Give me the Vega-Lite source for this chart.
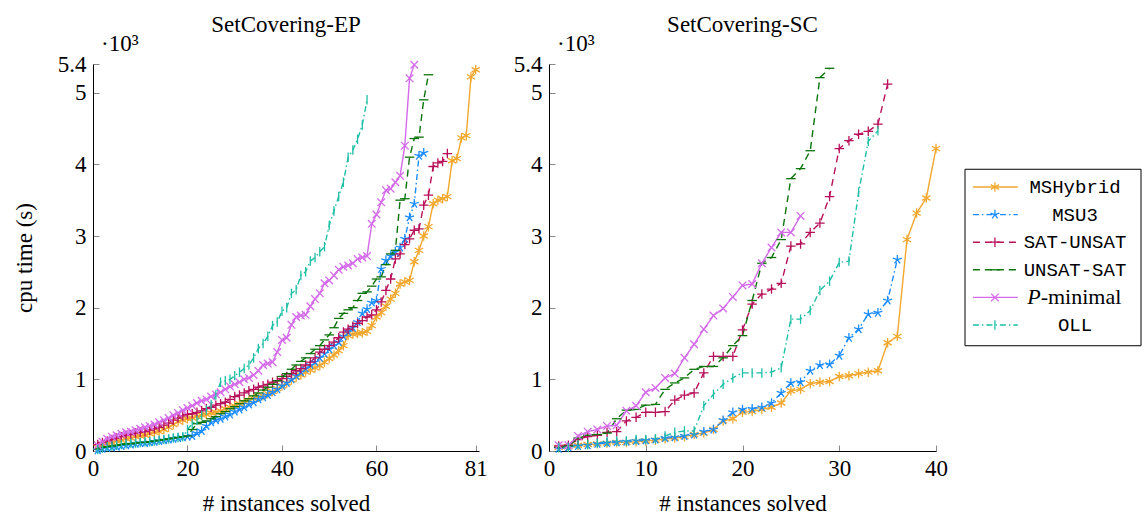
{
"$schema": "https://vega.github.io/schema/vega-lite/v6.json",
"background": "white",
"padding": {"left": 13, "top": 14, "right": 0, "bottom": 0},
"bounds": "flush",
"spacing": 70,
"config": {
  "font": "Liberation Serif",
  "view": {"stroke": null},
  "title": {"font": "Liberation Serif", "fontSize": 23, "fontWeight": "normal", "color": "#000", "anchor": "middle", "offset": -4, "baseline": "alphabetic"},
  "axis": {"labelFont": "Liberation Serif", "labelFontSize": 23, "titleFont": "Liberation Serif", "titleFontSize": 23, "titleFontWeight": "normal", "labelColor": "#000", "titleColor": "#000", "domainColor": "#000", "domainWidth": 1, "tickColor": "#888", "tickWidth": 1, "tickSize": -6, "grid": false, "labelFlush": false, "labelOverlap": false},
  "axisY": {"titlePadding": 21, "labelPadding": 13},
  "axisX": {"titlePadding": 12, "labelPadding": 12}
},
"datasets": {
  "ep": [
{"s":"MSHybrid","n":1,"t":50},{"s":"MSHybrid","n":2,"t":90},{"s":"MSHybrid","n":3,"t":110},{"s":"MSHybrid","n":4,"t":120},{"s":"MSHybrid","n":5,"t":140},{"s":"MSHybrid","n":6,"t":150},{"s":"MSHybrid","n":7,"t":170},{"s":"MSHybrid","n":8,"t":180},{"s":"MSHybrid","n":9,"t":200},{"s":"MSHybrid","n":10,"t":210},
{"s":"MSHybrid","n":11,"t":220},{"s":"MSHybrid","n":12,"t":240},{"s":"MSHybrid","n":13,"t":260},{"s":"MSHybrid","n":14,"t":270},{"s":"MSHybrid","n":15,"t":300},{"s":"MSHybrid","n":16,"t":330},{"s":"MSHybrid","n":17,"t":370},{"s":"MSHybrid","n":18,"t":410},{"s":"MSHybrid","n":19,"t":430},{"s":"MSHybrid","n":20,"t":450},
{"s":"MSHybrid","n":21,"t":460},{"s":"MSHybrid","n":22,"t":480},{"s":"MSHybrid","n":23,"t":500},{"s":"MSHybrid","n":24,"t":510},{"s":"MSHybrid","n":25,"t":530},{"s":"MSHybrid","n":26,"t":540},{"s":"MSHybrid","n":27,"t":560},{"s":"MSHybrid","n":28,"t":590},{"s":"MSHybrid","n":29,"t":610},{"s":"MSHybrid","n":30,"t":630},
{"s":"MSHybrid","n":31,"t":660},{"s":"MSHybrid","n":32,"t":680},{"s":"MSHybrid","n":33,"t":700},{"s":"MSHybrid","n":34,"t":730},{"s":"MSHybrid","n":35,"t":750},{"s":"MSHybrid","n":36,"t":770},{"s":"MSHybrid","n":37,"t":800},{"s":"MSHybrid","n":38,"t":830},{"s":"MSHybrid","n":39,"t":870},{"s":"MSHybrid","n":40,"t":910},
{"s":"MSHybrid","n":41,"t":950},{"s":"MSHybrid","n":42,"t":990},{"s":"MSHybrid","n":43,"t":1030},{"s":"MSHybrid","n":44,"t":1060},{"s":"MSHybrid","n":45,"t":1100},{"s":"MSHybrid","n":46,"t":1130},{"s":"MSHybrid","n":47,"t":1160},{"s":"MSHybrid","n":48,"t":1190},{"s":"MSHybrid","n":49,"t":1240},{"s":"MSHybrid","n":50,"t":1290},
{"s":"MSHybrid","n":51,"t":1340},{"s":"MSHybrid","n":52,"t":1400},{"s":"MSHybrid","n":53,"t":1470},{"s":"MSHybrid","n":54,"t":1610},{"s":"MSHybrid","n":55,"t":1630},{"s":"MSHybrid","n":56,"t":1640},{"s":"MSHybrid","n":57,"t":1650},{"s":"MSHybrid","n":58,"t":1670},{"s":"MSHybrid","n":59,"t":1750},{"s":"MSHybrid","n":60,"t":1870},
{"s":"MSHybrid","n":61,"t":1930},{"s":"MSHybrid","n":62,"t":2020},{"s":"MSHybrid","n":63,"t":2120},{"s":"MSHybrid","n":64,"t":2200},{"s":"MSHybrid","n":65,"t":2330},{"s":"MSHybrid","n":66,"t":2360},{"s":"MSHybrid","n":67,"t":2380},{"s":"MSHybrid","n":68,"t":2640},{"s":"MSHybrid","n":69,"t":2800},{"s":"MSHybrid","n":70,"t":3000},
{"s":"MSHybrid","n":71,"t":3130},{"s":"MSHybrid","n":72,"t":3450},{"s":"MSHybrid","n":73,"t":3500},{"s":"MSHybrid","n":74,"t":3520},{"s":"MSHybrid","n":75,"t":3550},{"s":"MSHybrid","n":76,"t":4050},{"s":"MSHybrid","n":77,"t":4080},{"s":"MSHybrid","n":78,"t":4370},{"s":"MSHybrid","n":79,"t":4400},{"s":"MSHybrid","n":80,"t":5220},{"s":"MSHybrid","n":81,"t":5320},
{"s":"MSU3","n":1,"t":10},{"s":"MSU3","n":2,"t":30},{"s":"MSU3","n":3,"t":40},{"s":"MSU3","n":4,"t":50},{"s":"MSU3","n":5,"t":60},{"s":"MSU3","n":6,"t":70},{"s":"MSU3","n":7,"t":80},{"s":"MSU3","n":8,"t":90},{"s":"MSU3","n":9,"t":100},{"s":"MSU3","n":10,"t":110},
{"s":"MSU3","n":11,"t":110},{"s":"MSU3","n":12,"t":120},{"s":"MSU3","n":13,"t":130},{"s":"MSU3","n":14,"t":140},{"s":"MSU3","n":15,"t":150},{"s":"MSU3","n":16,"t":160},{"s":"MSU3","n":17,"t":170},{"s":"MSU3","n":18,"t":180},{"s":"MSU3","n":19,"t":190},{"s":"MSU3","n":20,"t":200},
{"s":"MSU3","n":21,"t":210},{"s":"MSU3","n":22,"t":250},{"s":"MSU3","n":23,"t":280},{"s":"MSU3","n":24,"t":350},{"s":"MSU3","n":25,"t":400},{"s":"MSU3","n":26,"t":430},{"s":"MSU3","n":27,"t":450},{"s":"MSU3","n":28,"t":480},{"s":"MSU3","n":29,"t":510},{"s":"MSU3","n":30,"t":550},
{"s":"MSU3","n":31,"t":580},{"s":"MSU3","n":32,"t":610},{"s":"MSU3","n":33,"t":650},{"s":"MSU3","n":34,"t":680},{"s":"MSU3","n":35,"t":720},{"s":"MSU3","n":36,"t":750},{"s":"MSU3","n":37,"t":780},{"s":"MSU3","n":38,"t":820},{"s":"MSU3","n":39,"t":860},{"s":"MSU3","n":40,"t":910},
{"s":"MSU3","n":41,"t":950},{"s":"MSU3","n":42,"t":1000},{"s":"MSU3","n":43,"t":1050},{"s":"MSU3","n":44,"t":1100},{"s":"MSU3","n":45,"t":1150},{"s":"MSU3","n":46,"t":1200},{"s":"MSU3","n":47,"t":1240},{"s":"MSU3","n":48,"t":1300},{"s":"MSU3","n":49,"t":1360},{"s":"MSU3","n":50,"t":1420},
{"s":"MSU3","n":51,"t":1470},{"s":"MSU3","n":52,"t":1520},{"s":"MSU3","n":53,"t":1600},{"s":"MSU3","n":54,"t":1660},{"s":"MSU3","n":55,"t":1720},{"s":"MSU3","n":56,"t":1800},{"s":"MSU3","n":57,"t":1920},{"s":"MSU3","n":58,"t":1980},{"s":"MSU3","n":59,"t":2070},{"s":"MSU3","n":60,"t":2100},
{"s":"MSU3","n":61,"t":2540},{"s":"MSU3","n":62,"t":2660},{"s":"MSU3","n":63,"t":2720},{"s":"MSU3","n":64,"t":2780},{"s":"MSU3","n":65,"t":2840},{"s":"MSU3","n":66,"t":2960},{"s":"MSU3","n":67,"t":3260},{"s":"MSU3","n":68,"t":3450},{"s":"MSU3","n":69,"t":4120},{"s":"MSU3","n":70,"t":4160},
{"s":"SAT-UNSAT","n":1,"t":90},{"s":"SAT-UNSAT","n":2,"t":120},{"s":"SAT-UNSAT","n":3,"t":140},{"s":"SAT-UNSAT","n":4,"t":160},{"s":"SAT-UNSAT","n":5,"t":180},{"s":"SAT-UNSAT","n":6,"t":200},{"s":"SAT-UNSAT","n":7,"t":220},{"s":"SAT-UNSAT","n":8,"t":230},{"s":"SAT-UNSAT","n":9,"t":250},{"s":"SAT-UNSAT","n":10,"t":260},
{"s":"SAT-UNSAT","n":11,"t":270},{"s":"SAT-UNSAT","n":12,"t":290},{"s":"SAT-UNSAT","n":13,"t":310},{"s":"SAT-UNSAT","n":14,"t":330},{"s":"SAT-UNSAT","n":15,"t":360},{"s":"SAT-UNSAT","n":16,"t":390},{"s":"SAT-UNSAT","n":17,"t":430},{"s":"SAT-UNSAT","n":18,"t":460},{"s":"SAT-UNSAT","n":19,"t":490},{"s":"SAT-UNSAT","n":20,"t":510},
{"s":"SAT-UNSAT","n":21,"t":520},{"s":"SAT-UNSAT","n":22,"t":540},{"s":"SAT-UNSAT","n":23,"t":560},{"s":"SAT-UNSAT","n":24,"t":590},{"s":"SAT-UNSAT","n":25,"t":610},{"s":"SAT-UNSAT","n":26,"t":640},{"s":"SAT-UNSAT","n":27,"t":660},{"s":"SAT-UNSAT","n":28,"t":680},{"s":"SAT-UNSAT","n":29,"t":720},{"s":"SAT-UNSAT","n":30,"t":760},
{"s":"SAT-UNSAT","n":31,"t":780},{"s":"SAT-UNSAT","n":32,"t":810},{"s":"SAT-UNSAT","n":33,"t":840},{"s":"SAT-UNSAT","n":34,"t":860},{"s":"SAT-UNSAT","n":35,"t":890},{"s":"SAT-UNSAT","n":36,"t":910},{"s":"SAT-UNSAT","n":37,"t":930},{"s":"SAT-UNSAT","n":38,"t":960},{"s":"SAT-UNSAT","n":39,"t":980},{"s":"SAT-UNSAT","n":40,"t":1010},
{"s":"SAT-UNSAT","n":41,"t":1040},{"s":"SAT-UNSAT","n":42,"t":1080},{"s":"SAT-UNSAT","n":43,"t":1120},{"s":"SAT-UNSAT","n":44,"t":1150},{"s":"SAT-UNSAT","n":45,"t":1200},{"s":"SAT-UNSAT","n":46,"t":1240},{"s":"SAT-UNSAT","n":47,"t":1300},{"s":"SAT-UNSAT","n":48,"t":1380},{"s":"SAT-UNSAT","n":49,"t":1420},{"s":"SAT-UNSAT","n":50,"t":1470},
{"s":"SAT-UNSAT","n":51,"t":1520},{"s":"SAT-UNSAT","n":52,"t":1580},{"s":"SAT-UNSAT","n":53,"t":1660},{"s":"SAT-UNSAT","n":54,"t":1700},{"s":"SAT-UNSAT","n":55,"t":1740},{"s":"SAT-UNSAT","n":56,"t":1780},{"s":"SAT-UNSAT","n":57,"t":1820},{"s":"SAT-UNSAT","n":58,"t":1870},{"s":"SAT-UNSAT","n":59,"t":1900},{"s":"SAT-UNSAT","n":60,"t":1970},
{"s":"SAT-UNSAT","n":61,"t":2080},{"s":"SAT-UNSAT","n":62,"t":2240},{"s":"SAT-UNSAT","n":63,"t":2400},{"s":"SAT-UNSAT","n":64,"t":2680},{"s":"SAT-UNSAT","n":65,"t":2750},{"s":"SAT-UNSAT","n":66,"t":2880},{"s":"SAT-UNSAT","n":67,"t":2960},{"s":"SAT-UNSAT","n":68,"t":3080},{"s":"SAT-UNSAT","n":69,"t":3100},{"s":"SAT-UNSAT","n":70,"t":3430},
{"s":"SAT-UNSAT","n":71,"t":3570},{"s":"SAT-UNSAT","n":72,"t":3970},{"s":"SAT-UNSAT","n":73,"t":4020},{"s":"SAT-UNSAT","n":74,"t":4040},{"s":"SAT-UNSAT","n":75,"t":4150},
{"s":"UNSAT-SAT","n":1,"t":30},{"s":"UNSAT-SAT","n":2,"t":50},{"s":"UNSAT-SAT","n":3,"t":60},{"s":"UNSAT-SAT","n":4,"t":70},{"s":"UNSAT-SAT","n":5,"t":80},{"s":"UNSAT-SAT","n":6,"t":90},{"s":"UNSAT-SAT","n":7,"t":100},{"s":"UNSAT-SAT","n":8,"t":100},{"s":"UNSAT-SAT","n":9,"t":110},{"s":"UNSAT-SAT","n":10,"t":120},
{"s":"UNSAT-SAT","n":11,"t":120},{"s":"UNSAT-SAT","n":12,"t":130},{"s":"UNSAT-SAT","n":13,"t":140},{"s":"UNSAT-SAT","n":14,"t":150},{"s":"UNSAT-SAT","n":15,"t":160},{"s":"UNSAT-SAT","n":16,"t":170},{"s":"UNSAT-SAT","n":17,"t":180},{"s":"UNSAT-SAT","n":18,"t":190},{"s":"UNSAT-SAT","n":19,"t":200},{"s":"UNSAT-SAT","n":20,"t":210},
{"s":"UNSAT-SAT","n":21,"t":300},{"s":"UNSAT-SAT","n":22,"t":380},{"s":"UNSAT-SAT","n":23,"t":400},{"s":"UNSAT-SAT","n":24,"t":420},{"s":"UNSAT-SAT","n":25,"t":450},{"s":"UNSAT-SAT","n":26,"t":480},{"s":"UNSAT-SAT","n":27,"t":520},{"s":"UNSAT-SAT","n":28,"t":550},{"s":"UNSAT-SAT","n":29,"t":590},{"s":"UNSAT-SAT","n":30,"t":620},
{"s":"UNSAT-SAT","n":31,"t":660},{"s":"UNSAT-SAT","n":32,"t":700},{"s":"UNSAT-SAT","n":33,"t":730},{"s":"UNSAT-SAT","n":34,"t":770},{"s":"UNSAT-SAT","n":35,"t":810},{"s":"UNSAT-SAT","n":36,"t":850},{"s":"UNSAT-SAT","n":37,"t":890},{"s":"UNSAT-SAT","n":38,"t":930},{"s":"UNSAT-SAT","n":39,"t":980},{"s":"UNSAT-SAT","n":40,"t":1040},
{"s":"UNSAT-SAT","n":41,"t":1080},{"s":"UNSAT-SAT","n":42,"t":1140},{"s":"UNSAT-SAT","n":43,"t":1200},{"s":"UNSAT-SAT","n":44,"t":1250},{"s":"UNSAT-SAT","n":45,"t":1300},{"s":"UNSAT-SAT","n":46,"t":1360},{"s":"UNSAT-SAT","n":47,"t":1420},{"s":"UNSAT-SAT","n":48,"t":1470},{"s":"UNSAT-SAT","n":49,"t":1550},{"s":"UNSAT-SAT","n":50,"t":1620},
{"s":"UNSAT-SAT","n":51,"t":1720},{"s":"UNSAT-SAT","n":52,"t":1850},{"s":"UNSAT-SAT","n":53,"t":1920},{"s":"UNSAT-SAT","n":54,"t":1970},{"s":"UNSAT-SAT","n":55,"t":2000},{"s":"UNSAT-SAT","n":56,"t":2100},{"s":"UNSAT-SAT","n":57,"t":2200},{"s":"UNSAT-SAT","n":58,"t":2220},{"s":"UNSAT-SAT","n":59,"t":2300},{"s":"UNSAT-SAT","n":60,"t":2400},
{"s":"UNSAT-SAT","n":61,"t":2430},{"s":"UNSAT-SAT","n":62,"t":2600},{"s":"UNSAT-SAT","n":63,"t":2750},{"s":"UNSAT-SAT","n":64,"t":2800},{"s":"UNSAT-SAT","n":65,"t":3500},{"s":"UNSAT-SAT","n":66,"t":3520},{"s":"UNSAT-SAT","n":67,"t":4100},{"s":"UNSAT-SAT","n":68,"t":4360},{"s":"UNSAT-SAT","n":69,"t":4380},{"s":"UNSAT-SAT","n":70,"t":4900},{"s":"UNSAT-SAT","n":71,"t":5250},
{"s":"P-minimal","n":1,"t":80},{"s":"P-minimal","n":2,"t":130},{"s":"P-minimal","n":3,"t":170},{"s":"P-minimal","n":4,"t":200},{"s":"P-minimal","n":5,"t":220},{"s":"P-minimal","n":6,"t":240},{"s":"P-minimal","n":7,"t":260},{"s":"P-minimal","n":8,"t":270},{"s":"P-minimal","n":9,"t":290},{"s":"P-minimal","n":10,"t":310},
{"s":"P-minimal","n":11,"t":330},{"s":"P-minimal","n":12,"t":350},{"s":"P-minimal","n":13,"t":370},{"s":"P-minimal","n":14,"t":400},{"s":"P-minimal","n":15,"t":430},{"s":"P-minimal","n":16,"t":460},{"s":"P-minimal","n":17,"t":500},{"s":"P-minimal","n":18,"t":530},{"s":"P-minimal","n":19,"t":570},{"s":"P-minimal","n":20,"t":600},
{"s":"P-minimal","n":21,"t":630},{"s":"P-minimal","n":22,"t":670},{"s":"P-minimal","n":23,"t":700},{"s":"P-minimal","n":24,"t":720},{"s":"P-minimal","n":25,"t":760},{"s":"P-minimal","n":26,"t":790},{"s":"P-minimal","n":27,"t":820},{"s":"P-minimal","n":28,"t":860},{"s":"P-minimal","n":29,"t":900},{"s":"P-minimal","n":30,"t":930},
{"s":"P-minimal","n":31,"t":960},{"s":"P-minimal","n":32,"t":1000},{"s":"P-minimal","n":33,"t":1020},{"s":"P-minimal","n":34,"t":1060},{"s":"P-minimal","n":35,"t":1120},{"s":"P-minimal","n":36,"t":1200},{"s":"P-minimal","n":37,"t":1220},{"s":"P-minimal","n":38,"t":1240},{"s":"P-minimal","n":39,"t":1380},{"s":"P-minimal","n":40,"t":1550},
{"s":"P-minimal","n":41,"t":1580},{"s":"P-minimal","n":42,"t":1760},{"s":"P-minimal","n":43,"t":1870},{"s":"P-minimal","n":44,"t":1890},{"s":"P-minimal","n":45,"t":1900},{"s":"P-minimal","n":46,"t":2020},{"s":"P-minimal","n":47,"t":2120},{"s":"P-minimal","n":48,"t":2200},{"s":"P-minimal","n":49,"t":2340},{"s":"P-minimal","n":50,"t":2380},
{"s":"P-minimal","n":51,"t":2450},{"s":"P-minimal","n":52,"t":2530},{"s":"P-minimal","n":53,"t":2570},{"s":"P-minimal","n":54,"t":2590},{"s":"P-minimal","n":55,"t":2620},{"s":"P-minimal","n":56,"t":2680},{"s":"P-minimal","n":57,"t":2700},{"s":"P-minimal","n":58,"t":2720},{"s":"P-minimal","n":59,"t":3170},{"s":"P-minimal","n":60,"t":3300},
{"s":"P-minimal","n":61,"t":3470},{"s":"P-minimal","n":62,"t":3640},{"s":"P-minimal","n":63,"t":3660},{"s":"P-minimal","n":64,"t":3750},{"s":"P-minimal","n":65,"t":3840},{"s":"P-minimal","n":66,"t":4260},{"s":"P-minimal","n":67,"t":5200},{"s":"P-minimal","n":68,"t":5390},
{"s":"OLL","n":1,"t":20},{"s":"OLL","n":2,"t":40},{"s":"OLL","n":3,"t":60},{"s":"OLL","n":4,"t":70},{"s":"OLL","n":5,"t":80},{"s":"OLL","n":6,"t":90},{"s":"OLL","n":7,"t":100},{"s":"OLL","n":8,"t":110},{"s":"OLL","n":9,"t":110},{"s":"OLL","n":10,"t":120},
{"s":"OLL","n":11,"t":130},{"s":"OLL","n":12,"t":130},{"s":"OLL","n":13,"t":140},{"s":"OLL","n":14,"t":150},{"s":"OLL","n":15,"t":160},{"s":"OLL","n":16,"t":170},{"s":"OLL","n":17,"t":180},{"s":"OLL","n":18,"t":190},{"s":"OLL","n":19,"t":200},{"s":"OLL","n":20,"t":300},
{"s":"OLL","n":21,"t":380},{"s":"OLL","n":22,"t":430},{"s":"OLL","n":23,"t":500},{"s":"OLL","n":24,"t":570},{"s":"OLL","n":25,"t":650},{"s":"OLL","n":26,"t":780},{"s":"OLL","n":27,"t":960},{"s":"OLL","n":28,"t":980},{"s":"OLL","n":29,"t":1000},{"s":"OLL","n":30,"t":1050},
{"s":"OLL","n":31,"t":1100},{"s":"OLL","n":32,"t":1150},{"s":"OLL","n":33,"t":1200},{"s":"OLL","n":34,"t":1300},{"s":"OLL","n":35,"t":1430},{"s":"OLL","n":36,"t":1500},{"s":"OLL","n":37,"t":1600},{"s":"OLL","n":38,"t":1750},{"s":"OLL","n":39,"t":1800},{"s":"OLL","n":40,"t":1950},
{"s":"OLL","n":41,"t":2000},{"s":"OLL","n":42,"t":2200},{"s":"OLL","n":43,"t":2250},{"s":"OLL","n":44,"t":2450},{"s":"OLL","n":45,"t":2500},{"s":"OLL","n":46,"t":2650},{"s":"OLL","n":47,"t":2700},{"s":"OLL","n":48,"t":2780},{"s":"OLL","n":49,"t":2850},{"s":"OLL","n":50,"t":3150},
{"s":"OLL","n":51,"t":3350},{"s":"OLL","n":52,"t":3550},{"s":"OLL","n":53,"t":3750},{"s":"OLL","n":54,"t":4100},{"s":"OLL","n":55,"t":4200},{"s":"OLL","n":56,"t":4350},{"s":"OLL","n":57,"t":4550},{"s":"OLL","n":58,"t":4900}
  ],
  "sc": [
{"s":"MSHybrid","n":1,"t":50},{"s":"MSHybrid","n":2,"t":60},{"s":"MSHybrid","n":3,"t":80},{"s":"MSHybrid","n":4,"t":90},{"s":"MSHybrid","n":5,"t":100},{"s":"MSHybrid","n":6,"t":110},{"s":"MSHybrid","n":7,"t":120},{"s":"MSHybrid","n":8,"t":120},{"s":"MSHybrid","n":9,"t":130},{"s":"MSHybrid","n":10,"t":140},
{"s":"MSHybrid","n":11,"t":150},{"s":"MSHybrid","n":12,"t":170},{"s":"MSHybrid","n":13,"t":180},{"s":"MSHybrid","n":14,"t":200},{"s":"MSHybrid","n":15,"t":230},{"s":"MSHybrid","n":16,"t":250},{"s":"MSHybrid","n":17,"t":300},{"s":"MSHybrid","n":18,"t":420},{"s":"MSHybrid","n":19,"t":450},{"s":"MSHybrid","n":20,"t":540},
{"s":"MSHybrid","n":21,"t":550},{"s":"MSHybrid","n":22,"t":580},{"s":"MSHybrid","n":23,"t":610},{"s":"MSHybrid","n":24,"t":670},{"s":"MSHybrid","n":25,"t":840},{"s":"MSHybrid","n":26,"t":860},{"s":"MSHybrid","n":27,"t":940},{"s":"MSHybrid","n":28,"t":960},{"s":"MSHybrid","n":29,"t":970},{"s":"MSHybrid","n":30,"t":1040},
{"s":"MSHybrid","n":31,"t":1050},{"s":"MSHybrid","n":32,"t":1080},{"s":"MSHybrid","n":33,"t":1100},{"s":"MSHybrid","n":34,"t":1120},{"s":"MSHybrid","n":35,"t":1510},{"s":"MSHybrid","n":36,"t":1600},{"s":"MSHybrid","n":37,"t":2950},{"s":"MSHybrid","n":38,"t":3320},{"s":"MSHybrid","n":39,"t":3530},{"s":"MSHybrid","n":40,"t":4220},
{"s":"MSU3","n":1,"t":30},{"s":"MSU3","n":2,"t":50},{"s":"MSU3","n":3,"t":70},{"s":"MSU3","n":4,"t":80},{"s":"MSU3","n":5,"t":100},{"s":"MSU3","n":6,"t":110},{"s":"MSU3","n":7,"t":120},{"s":"MSU3","n":8,"t":130},{"s":"MSU3","n":9,"t":140},{"s":"MSU3","n":10,"t":150},
{"s":"MSU3","n":11,"t":160},{"s":"MSU3","n":12,"t":180},{"s":"MSU3","n":13,"t":190},{"s":"MSU3","n":14,"t":210},{"s":"MSU3","n":15,"t":230},{"s":"MSU3","n":16,"t":270},{"s":"MSU3","n":17,"t":300},{"s":"MSU3","n":18,"t":430},{"s":"MSU3","n":19,"t":540},{"s":"MSU3","n":20,"t":580},
{"s":"MSU3","n":21,"t":590},{"s":"MSU3","n":22,"t":610},{"s":"MSU3","n":23,"t":670},{"s":"MSU3","n":24,"t":810},{"s":"MSU3","n":25,"t":950},{"s":"MSU3","n":26,"t":960},{"s":"MSU3","n":27,"t":1120},{"s":"MSU3","n":28,"t":1200},{"s":"MSU3","n":29,"t":1210},{"s":"MSU3","n":30,"t":1330},
{"s":"MSU3","n":31,"t":1580},{"s":"MSU3","n":32,"t":1700},{"s":"MSU3","n":33,"t":1910},{"s":"MSU3","n":34,"t":1930},{"s":"MSU3","n":35,"t":2100},{"s":"MSU3","n":36,"t":2670},
{"s":"SAT-UNSAT","n":1,"t":70},{"s":"SAT-UNSAT","n":2,"t":80},{"s":"SAT-UNSAT","n":3,"t":160},{"s":"SAT-UNSAT","n":4,"t":200},{"s":"SAT-UNSAT","n":5,"t":220},{"s":"SAT-UNSAT","n":6,"t":260},{"s":"SAT-UNSAT","n":7,"t":270},{"s":"SAT-UNSAT","n":8,"t":420},{"s":"SAT-UNSAT","n":9,"t":470},{"s":"SAT-UNSAT","n":10,"t":540},
{"s":"SAT-UNSAT","n":11,"t":540},{"s":"SAT-UNSAT","n":12,"t":550},{"s":"SAT-UNSAT","n":13,"t":710},{"s":"SAT-UNSAT","n":14,"t":780},{"s":"SAT-UNSAT","n":15,"t":810},{"s":"SAT-UNSAT","n":16,"t":1090},{"s":"SAT-UNSAT","n":17,"t":1320},{"s":"SAT-UNSAT","n":18,"t":1320},{"s":"SAT-UNSAT","n":19,"t":1320},{"s":"SAT-UNSAT","n":20,"t":1690},
{"s":"SAT-UNSAT","n":21,"t":2050},{"s":"SAT-UNSAT","n":22,"t":2190},{"s":"SAT-UNSAT","n":23,"t":2260},{"s":"SAT-UNSAT","n":24,"t":2340},{"s":"SAT-UNSAT","n":25,"t":2860},{"s":"SAT-UNSAT","n":26,"t":2890},{"s":"SAT-UNSAT","n":27,"t":3050},{"s":"SAT-UNSAT","n":28,"t":3180},{"s":"SAT-UNSAT","n":29,"t":3550},{"s":"SAT-UNSAT","n":30,"t":4220},
{"s":"SAT-UNSAT","n":31,"t":4330},{"s":"SAT-UNSAT","n":32,"t":4420},{"s":"SAT-UNSAT","n":33,"t":4460},{"s":"SAT-UNSAT","n":34,"t":4560},{"s":"SAT-UNSAT","n":35,"t":5120},
{"s":"UNSAT-SAT","n":1,"t":50},{"s":"UNSAT-SAT","n":2,"t":70},{"s":"UNSAT-SAT","n":3,"t":180},{"s":"UNSAT-SAT","n":4,"t":220},{"s":"UNSAT-SAT","n":5,"t":230},{"s":"UNSAT-SAT","n":6,"t":250},{"s":"UNSAT-SAT","n":7,"t":450},{"s":"UNSAT-SAT","n":8,"t":570},{"s":"UNSAT-SAT","n":9,"t":580},{"s":"UNSAT-SAT","n":10,"t":640},
{"s":"UNSAT-SAT","n":11,"t":650},{"s":"UNSAT-SAT","n":12,"t":860},{"s":"UNSAT-SAT","n":13,"t":950},{"s":"UNSAT-SAT","n":14,"t":1020},{"s":"UNSAT-SAT","n":15,"t":1140},{"s":"UNSAT-SAT","n":16,"t":1180},{"s":"UNSAT-SAT","n":17,"t":1180},{"s":"UNSAT-SAT","n":18,"t":1300},{"s":"UNSAT-SAT","n":19,"t":1470},{"s":"UNSAT-SAT","n":20,"t":1610},
{"s":"UNSAT-SAT","n":21,"t":2100},{"s":"UNSAT-SAT","n":22,"t":2620},{"s":"UNSAT-SAT","n":23,"t":2700},{"s":"UNSAT-SAT","n":24,"t":2950},{"s":"UNSAT-SAT","n":25,"t":3800},{"s":"UNSAT-SAT","n":26,"t":3940},{"s":"UNSAT-SAT","n":27,"t":4190},{"s":"UNSAT-SAT","n":28,"t":5210},{"s":"UNSAT-SAT","n":29,"t":5340},
{"s":"P-minimal","n":1,"t":80},{"s":"P-minimal","n":2,"t":80},{"s":"P-minimal","n":3,"t":210},{"s":"P-minimal","n":4,"t":270},{"s":"P-minimal","n":5,"t":300},{"s":"P-minimal","n":6,"t":350},{"s":"P-minimal","n":7,"t":360},{"s":"P-minimal","n":8,"t":560},{"s":"P-minimal","n":9,"t":630},{"s":"P-minimal","n":10,"t":820},
{"s":"P-minimal","n":11,"t":880},{"s":"P-minimal","n":12,"t":1020},{"s":"P-minimal","n":13,"t":1080},{"s":"P-minimal","n":14,"t":1300},{"s":"P-minimal","n":15,"t":1490},{"s":"P-minimal","n":16,"t":1700},{"s":"P-minimal","n":17,"t":1890},{"s":"P-minimal","n":18,"t":1990},{"s":"P-minimal","n":19,"t":2150},{"s":"P-minimal","n":20,"t":2310},
{"s":"P-minimal","n":21,"t":2330},{"s":"P-minimal","n":22,"t":2620},{"s":"P-minimal","n":23,"t":2840},{"s":"P-minimal","n":24,"t":3050},{"s":"P-minimal","n":25,"t":3050},{"s":"P-minimal","n":26,"t":3280},
{"s":"OLL","n":1,"t":50},{"s":"OLL","n":2,"t":50},{"s":"OLL","n":3,"t":90},{"s":"OLL","n":4,"t":90},{"s":"OLL","n":5,"t":110},{"s":"OLL","n":6,"t":130},{"s":"OLL","n":7,"t":140},{"s":"OLL","n":8,"t":140},{"s":"OLL","n":9,"t":160},{"s":"OLL","n":10,"t":160},
{"s":"OLL","n":11,"t":170},{"s":"OLL","n":12,"t":210},{"s":"OLL","n":13,"t":260},{"s":"OLL","n":14,"t":280},{"s":"OLL","n":15,"t":280},{"s":"OLL","n":16,"t":630},{"s":"OLL","n":17,"t":790},{"s":"OLL","n":18,"t":930},{"s":"OLL","n":19,"t":1020},{"s":"OLL","n":20,"t":1090},
{"s":"OLL","n":21,"t":1090},{"s":"OLL","n":22,"t":1090},{"s":"OLL","n":23,"t":1100},{"s":"OLL","n":24,"t":1160},{"s":"OLL","n":25,"t":1840},{"s":"OLL","n":26,"t":1840},{"s":"OLL","n":27,"t":1960},{"s":"OLL","n":28,"t":2240},{"s":"OLL","n":29,"t":2370},{"s":"OLL","n":30,"t":2630},
{"s":"OLL","n":31,"t":2650},{"s":"OLL","n":32,"t":3610},{"s":"OLL","n":33,"t":4320},{"s":"OLL","n":34,"t":4470}
  ],
  "leg": [{"s":"MSHybrid"},{"s":"MSU3"},{"s":"SAT-UNSAT"},{"s":"UNSAT-SAT"},{"s":"P-minimal"},{"s":"OLL"}]
},
"hconcat": [
  {
    "width": 386, "height": 387,
    "title": {"text": "SetCovering-EP"},
    "data": {"name": "ep"},
    "layer": [
      {"mark": {"type": "line", "strokeWidth": 1.4},
       "encoding": {
         "x": {"field": "n", "type": "quantitative", "scale": {"domain": [0, 81.7], "nice": false, "zero": false}, "axis": {"values": [0, 20, 40, 60, 81], "title": "# instances solved"}},
         "y": {"field": "t", "type": "quantitative", "scale": {"domain": [0, 5400], "nice": false}, "axis": {"values": [0, 1000, 2000, 3000, 4000, 5000, 5400], "labelExpr": "datum.value == 5400 ? '5.4' : format(datum.value / 1000, 'd')", "title": "cpu time (s)"}},
         "color": {"field": "s", "type": "nominal", "legend": null, "scale": {"domain": ["MSHybrid","MSU3","SAT-UNSAT","UNSAT-SAT","P-minimal","OLL"], "range": ["#F2A72E","#1A8CFF","#B8105A","#0A740A","#D46AEA","#1DBFA6"]}},
         "strokeDash": {"field": "s", "type": "nominal", "legend": null, "scale": {"domain": ["MSHybrid","MSU3","SAT-UNSAT","UNSAT-SAT","P-minimal","OLL"], "range": [[1,0],[6,3,1.5,3],[7,5],[7,5],[1,0],[6,3,1.5,3]]}}
       }},
      {"mark": {"type": "point", "filled": false, "strokeWidth": 1.3, "size": 90, "opacity": 1},
       "encoding": {
         "x": {"field": "n", "type": "quantitative"},
         "y": {"field": "t", "type": "quantitative"},
         "color": {"field": "s", "type": "nominal", "legend": null},
         "shape": {"field": "s", "type": "nominal", "legend": null, "scale": {"domain": ["MSHybrid","MSU3","SAT-UNSAT","UNSAT-SAT","P-minimal","OLL"], "range": ["M0,-1L0,1M-0.866,-0.5L0.866,0.5M-0.866,0.5L0.866,-0.5", "M0,0L0,-1M0,0L0.951,-0.309M0,0L0.588,0.809M0,0L-0.588,0.809M0,0L-0.951,-0.309", "M-1,0L1,0M0,-1L0,1", "M-1,0L1,0", "M-0.8,-0.8L0.8,0.8M-0.8,0.8L0.8,-0.8", "M0,-1L0,1"]}}
       }},
      {"data": {"values": [{}]},
       "mark": {"type": "text", "text": "·10³", "align": "left", "baseline": "alphabetic", "dx": 8, "dy": -13, "fontSize": 23, "font": "Liberation Serif", "color": "#000"},
       "encoding": {"x": {"datum": 0, "type": "quantitative"}, "y": {"datum": 5400, "type": "quantitative"}}}
    ]
  },
  {
    "bounds": "flush",
    "spacing": 29,
    "hconcat": [
      {
        "width": 387, "height": 387,
        "title": {"text": "SetCovering-SC"},
        "data": {"name": "sc"},
        "layer": [
          {"mark": {"type": "line", "strokeWidth": 1.4},
           "encoding": {
             "x": {"field": "n", "type": "quantitative", "scale": {"domain": [0, 40], "nice": false}, "axis": {"values": [0, 10, 20, 30, 40], "title": "# instances solved"}},
             "y": {"field": "t", "type": "quantitative", "scale": {"domain": [0, 5400], "nice": false}, "axis": {"values": [0, 1000, 2000, 3000, 4000, 5000, 5400], "labelExpr": "datum.value == 5400 ? '5.4' : format(datum.value / 1000, 'd')", "title": null}},
             "color": {"field": "s", "type": "nominal", "legend": null, "scale": {"domain": ["MSHybrid","MSU3","SAT-UNSAT","UNSAT-SAT","P-minimal","OLL"], "range": ["#F2A72E","#1A8CFF","#B8105A","#0A740A","#D46AEA","#1DBFA6"]}},
             "strokeDash": {"field": "s", "type": "nominal", "legend": null, "scale": {"domain": ["MSHybrid","MSU3","SAT-UNSAT","UNSAT-SAT","P-minimal","OLL"], "range": [[1,0],[6,3,1.5,3],[7,5],[7,5],[1,0],[6,3,1.5,3]]}}
           }},
          {"mark": {"type": "point", "filled": false, "strokeWidth": 1.3, "size": 90, "opacity": 1},
           "encoding": {
             "x": {"field": "n", "type": "quantitative"},
             "y": {"field": "t", "type": "quantitative"},
             "color": {"field": "s", "type": "nominal", "legend": null},
             "shape": {"field": "s", "type": "nominal", "legend": null, "scale": {"domain": ["MSHybrid","MSU3","SAT-UNSAT","UNSAT-SAT","P-minimal","OLL"], "range": ["M0,-1L0,1M-0.866,-0.5L0.866,0.5M-0.866,0.5L0.866,-0.5", "M0,0L0,-1M0,0L0.951,-0.309M0,0L0.588,0.809M0,0L-0.588,0.809M0,0L-0.951,-0.309", "M-1,0L1,0M0,-1L0,1", "M-1,0L1,0", "M-0.8,-0.8L0.8,0.8M-0.8,0.8L0.8,-0.8", "M0,-1L0,1"]}}
           }},
          {"data": {"values": [{}]},
           "mark": {"type": "text", "text": "·10³", "align": "left", "baseline": "alphabetic", "dx": 8, "dy": -13, "fontSize": 23, "font": "Liberation Serif", "color": "#000"},
           "encoding": {"x": {"datum": 0, "type": "quantitative"}, "y": {"datum": 5400, "type": "quantitative"}}}
        ]
      },
      {
        "width": 176, "height": 387,
        "data": {"name": "leg"},
        "resolve": {"scale": {"y": "independent"}},
        "layer": [
          {"data": {"values": [{}]},
           "mark": {"type": "rect", "fill": null, "stroke": "#000", "strokeWidth": 1},
           "encoding": {
             "x": {"datum": 0, "type": "quantitative", "scale": {"domain": [0, 1], "nice": false, "zero": false}, "axis": null},
             "x2": {"datum": 1},
             "y": {"datum": 0.272, "type": "quantitative", "scale": {"domain": [0, 1], "nice": false}, "axis": null},
             "y2": {"datum": 0.728}
           }},
          {"mark": {"type": "rule", "strokeWidth": 1.4},
           "encoding": {
             "x": {"datum": 0.045, "type": "quantitative"},
             "x2": {"datum": 0.3},
             "y": {"field": "s", "type": "nominal", "scale": {"type": "point", "domain": ["MSHybrid","MSU3","SAT-UNSAT","UNSAT-SAT","P-minimal","OLL"], "range": [123, 261], "padding": 0}, "axis": null},
             "color": {"field": "s", "type": "nominal", "legend": null},
             "strokeDash": {"field": "s", "type": "nominal", "legend": null}
           }},
          {"mark": {"type": "point", "filled": false, "strokeWidth": 1.3, "size": 90, "opacity": 1},
           "encoding": {
             "x": {"datum": 0.17, "type": "quantitative"},
             "y": {"field": "s", "type": "nominal", "scale": {"type": "point", "domain": ["MSHybrid","MSU3","SAT-UNSAT","UNSAT-SAT","P-minimal","OLL"], "range": [123, 261], "padding": 0}, "axis": null},
             "color": {"field": "s", "type": "nominal", "legend": null},
             "shape": {"field": "s", "type": "nominal", "legend": null}
           }},
          {"transform": [{"filter": "datum.s != 'P-minimal'"}],
           "mark": {"type": "text", "font": "Liberation Mono", "fontSize": 19, "align": "center", "baseline": "middle", "color": "#000"},
           "encoding": {
             "x": {"datum": 0.625, "type": "quantitative"},
             "y": {"field": "s", "type": "nominal", "scale": {"type": "point", "domain": ["MSHybrid","MSU3","SAT-UNSAT","UNSAT-SAT","P-minimal","OLL"], "range": [123, 261], "padding": 0}, "axis": null},
             "text": {"field": "s"}
           }},
          {"transform": [{"filter": "datum.s == 'P-minimal'"}],
           "mark": {"type": "text", "text": "P", "font": "Liberation Serif", "fontStyle": "italic", "fontSize": 22, "align": "right", "baseline": "middle", "color": "#000"},
           "encoding": {
             "x": {"datum": 0.43, "type": "quantitative"},
             "y": {"field": "s", "type": "nominal", "scale": {"type": "point", "domain": ["MSHybrid","MSU3","SAT-UNSAT","UNSAT-SAT","P-minimal","OLL"], "range": [123, 261], "padding": 0}, "axis": null}
           }},
          {"transform": [{"filter": "datum.s == 'P-minimal'"}],
           "mark": {"type": "text", "text": "-minimal", "font": "Liberation Serif", "fontSize": 22, "align": "left", "baseline": "middle", "color": "#000"},
           "encoding": {
             "x": {"datum": 0.43, "type": "quantitative"},
             "y": {"field": "s", "type": "nominal", "scale": {"type": "point", "domain": ["MSHybrid","MSU3","SAT-UNSAT","UNSAT-SAT","P-minimal","OLL"], "range": [123, 261], "padding": 0}, "axis": null}
           }}
        ]
      }
    ]
  }
]
}
